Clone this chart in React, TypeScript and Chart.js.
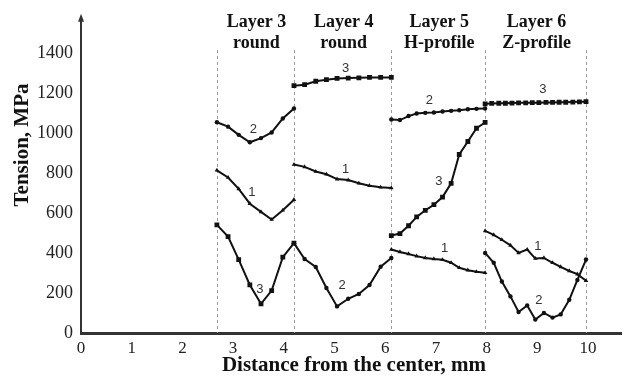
import React, { useEffect, useRef } from "react";
import { Chart, registerables } from "chart.js";

Chart.register(...registerables);

// ---- data ----
const xTicks = [0, 1, 2, 3, 4, 5, 6, 7, 8, 9, 10];
const yTicks = [0, 200, 400, 600, 800, 1000, 1200, 1400];
const layerBounds = [2.68, 4.2, 6.12, 7.97, 9.96];
const layerTitles = [
  ["Layer 3", "round"],
  ["Layer 4", "round"],
  ["Layer 5", "H-profile"],
  ["Layer 6", "Z-profile"],
];

const layer3X = [2.68, 2.9, 3.11, 3.33, 3.55, 3.76, 3.98, 4.2];
const l3c1 = [813, 777, 720, 646, 605, 567, 613, 666];
const l3c2 = [1053, 1031, 990, 953, 974, 1002, 1072, 1122];
const l3c3 = [540, 482, 367, 240, 146, 212, 379, 449];

const layer4X = [4.2, 4.41, 4.63, 4.84, 5.05, 5.27, 5.48, 5.69, 5.91, 6.12];
const l4c1 = [842, 830, 807, 793, 769, 764, 748, 736, 728, 725];
const l4c2 = [449, 370, 330, 225, 133, 171, 195, 240, 331, 375];
const l4c3 = [1236, 1241, 1258, 1266, 1272, 1274, 1275, 1277, 1277, 1277];

const layer5X = [6.12, 6.29, 6.46, 6.62, 6.79, 6.96, 7.13, 7.3, 7.46, 7.63, 7.8, 7.97];
const l5c1 = [417, 405, 395, 384, 375, 370, 366, 351, 326, 314, 306, 301];
const l5c2 = [1067, 1064, 1084, 1097, 1100, 1102, 1107, 1110, 1113, 1118, 1120, 1122];
const l5c3 = [487, 497, 536, 580, 613, 641, 679, 748, 892, 957, 1023, 1052];

const layer6X = [7.97, 8.14, 8.3, 8.47, 8.63, 8.8, 8.96, 9.13, 9.3, 9.46, 9.63, 9.79, 9.96];
const l6c1 = [510, 490, 466, 438, 400, 417, 372, 375, 351, 330, 310, 294, 261];
const l6c2 = [400, 351, 257, 183, 105, 138, 67, 100, 77, 93, 166, 265, 367];
const layer6X3 = [7.97, 8.1, 8.24, 8.37, 8.5, 8.63, 8.77, 8.9, 9.03, 9.17, 9.3, 9.43, 9.56, 9.7, 9.83, 9.96];
const l6c3 = [1145, 1147, 1148, 1148, 1149, 1150, 1150, 1151, 1151, 1152, 1152, 1153, 1153, 1154, 1155, 1156];

// curve number labels: [text, x, y] in data units
const curveLabels: [string, number, number][] = [
  ["2", 3.4, 1015], ["1", 3.37, 703], ["3", 3.53, 220],
  ["3", 5.22, 1322], ["1", 5.22, 818], ["2", 5.15, 240],
  ["2", 6.87, 1162], ["3", 7.06, 756], ["1", 7.17, 422],
  ["3", 9.11, 1215], ["1", 9.01, 433], ["2", 9.03, 162],
];

const X_TITLE = "Distance from the center, mm";
const Y_TITLE = "Tension, MPa";

const SERIF = '"Liberation Serif", "Times New Roman", serif';
const SANS = '"Liberation Sans", Arial, sans-serif';

const styleFor = (curve: number) =>
  curve === 1
    ? { pointStyle: "triangle", pointRadius: 2.6 }
    : curve === 2
    ? { pointStyle: "circle", pointRadius: 2.2 }
    : { pointStyle: "rect", pointRadius: 3.4 };

const mk = (xs: number[], ys: number[], curve: number) => ({
  data: xs.map((x, i) => ({ x, y: ys[i] })),
  showLine: true,
  borderColor: "#111",
  backgroundColor: "#111",
  borderWidth: 2,
  pointBorderWidth: 0,
  ...styleFor(curve),
});

const decorPlugin = {
  id: "decor",
  beforeDatasetsDraw(chart: any) {
    const { ctx, scales, chartArea } = chart;
    const xs = scales.x;
    ctx.save();
    ctx.strokeStyle = "#999";
    ctx.lineWidth = 1;
    ctx.setLineDash([3, 3]);
    layerBounds.forEach((b) => {
      const px = Math.round(xs.getPixelForValue(b)) + 0.5;
      ctx.beginPath();
      ctx.moveTo(px, 50);
      ctx.lineTo(px, chartArea.bottom);
      ctx.stroke();
    });
    ctx.restore();
  },
  afterDraw(chart: any) {
    const { ctx, scales, chartArea } = chart;
    const xs = scales.x;
    const ys = scales.y;
    ctx.save();
    // layer titles
    ctx.fillStyle = "#111";
    ctx.font = `bold 18px ${SERIF}`;
    ctx.textAlign = "center";
    ctx.textBaseline = "middle";
    layerTitles.forEach((lines, i) => {
      const cx = (xs.getPixelForValue(layerBounds[i]) + xs.getPixelForValue(layerBounds[i + 1])) / 2;
      ctx.fillText(lines[0], cx + 1, 22);
      ctx.fillText(lines[1], cx + 1, 43);
    });
    // curve numbers
    ctx.font = `13px ${SANS}`;
    ctx.fillStyle = "#333";
    curveLabels.forEach(([t, x, y]) => {
      ctx.fillText(t, xs.getPixelForValue(x), ys.getPixelForValue(y));
    });
    // axis titles
    ctx.fillStyle = "#111";
    ctx.font = `bold 21px ${SERIF}`;
    ctx.fillText(X_TITLE, 354, 366);
    ctx.save();
    ctx.translate(23, 145);
    ctx.rotate(-Math.PI / 2);
    ctx.fillText(Y_TITLE, 0, 0);
    ctx.restore();
    // arrow on y axis
    const ax = chartArea.left;
    ctx.fillStyle = "#333";
    ctx.beginPath();
    ctx.moveTo(ax, chartArea.top - 5);
    ctx.lineTo(ax - 3, chartArea.top + 3);
    ctx.lineTo(ax + 3, chartArea.top + 3);
    ctx.closePath();
    ctx.fill();
    ctx.restore();
  },
};

export default function App() {
  const ref = useRef<HTMLCanvasElement>(null);
  useEffect(() => {
    document.body.style.margin = "0";
    const chart = new Chart(ref.current!, {
      type: "scatter",
      data: {
        datasets: [
          mk(layer3X, l3c1, 1), mk(layer3X, l3c2, 2), mk(layer3X, l3c3, 3),
          mk(layer4X, l4c1, 1), mk(layer4X, l4c2, 2), mk(layer4X, l4c3, 3),
          mk(layer5X, l5c1, 1), mk(layer5X, l5c2, 2), mk(layer5X, l5c3, 3),
          mk(layer6X, l6c1, 1), mk(layer6X, l6c2, 2), mk(layer6X3, l6c3, 3),
        ] as any,
      },
      options: {
        animation: false,
        responsive: false,
        layout: { padding: { top: 14, right: 10, left: 0, bottom: 0 } },
        plugins: { legend: { display: false }, tooltip: { enabled: false } },
        scales: {
          x: {
            type: "linear",
            min: 0,
            max: 10.65,
            afterFit: (s: any) => { s.height = 47; },
            afterBuildTicks: (s: any) => { s.ticks = xTicks.map((v) => ({ value: v })); },
            grid: { display: false, drawTicks: false },
            border: { display: true, color: "#333", width: 3 },
            ticks: {
              color: "#222",
              padding: 5,
              font: { family: SERIF, size: 17 },
              maxRotation: 0,
              callback: (v: any) => String(v),
            },
          },
          y: {
            type: "linear",
            min: 0,
            max: 1570,
            afterFit: (s: any) => { s.width = 81; },
            afterBuildTicks: (s: any) => { s.ticks = yTicks.map((v) => ({ value: v })); },
            grid: { display: false, drawTicks: false },
            border: { display: true, color: "#333", width: 2 },
            ticks: {
              color: "#222",
              padding: 8,
              font: { family: SERIF, size: 18 },
              callback: (v: any) => String(v),
            },
          },
        },
      },
      plugins: [decorPlugin],
    } as any);
    return () => chart.destroy();
  }, []);
  return (
    <div style={{ width: 631, height: 380, background: "#fff" }}>
      <canvas ref={ref} width={631} height={380} />
    </div>
  );
}
